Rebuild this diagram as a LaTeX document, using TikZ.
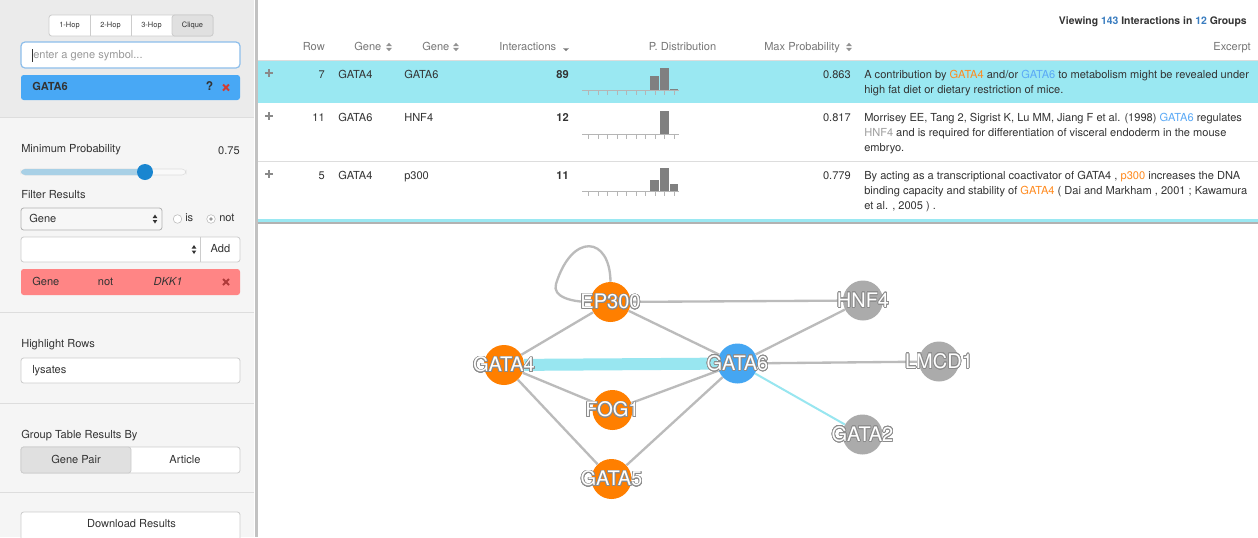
\documentclass[tikz,border=0pt]{standalone}
\usepackage{fontspec}
\setmainfont{TeX Gyre Heros}
\usepackage{xcolor}
\usepackage{contour}
\usetikzlibrary{positioning}
\definecolor{panelbg}{HTML}{F5F5F5}
\definecolor{topbg}{HTML}{EBEBEB}
\definecolor{rulegray}{HTML}{DDDDDD}
\definecolor{edgedark}{HTML}{C2C2C2}
\definecolor{btnline}{HTML}{CCCCCC}
\definecolor{btnpress}{HTML}{E0E0E0}
\definecolor{focusblue}{HTML}{8DBEEB}
\definecolor{placeholder}{HTML}{999999}
\definecolor{chipblue}{HTML}{48A8F5}
\definecolor{chipred}{HTML}{FF8585}
\definecolor{xred}{HTML}{D23C32}
\definecolor{xdark}{HTML}{B03A3A}
\definecolor{slidertrack}{HTML}{A8D0E6}
\definecolor{sliderknob}{HTML}{1A86D0}
\definecolor{rowcyan}{HTML}{9AE8F2}
\definecolor{headgray}{HTML}{777777}
\definecolor{textdark}{HTML}{333333}
\definecolor{countblue}{HTML}{3A7DC0}
\definecolor{geneorange}{HTML}{FF8A1E}
\definecolor{geneblue}{HTML}{5AA9F6}
\definecolor{genegray}{HTML}{9E9E9E}
\definecolor{histgray}{HTML}{808080}
\definecolor{tickgray}{HTML}{B5B5B5}
\definecolor{plusgray}{HTML}{8A8A8A}
\definecolor{nodeorange}{HTML}{FF7F00}
\definecolor{nodeblue}{HTML}{45A6F2}
\definecolor{nodegray}{HTML}{ABABAB}
\definecolor{edgegray}{HTML}{BBBBBB}
\definecolor{edgecyan}{HTML}{98E6F0}
\definecolor{labelgray}{HTML}{8C8C8C}
\contourlength{0.55pt}
\contournumber{24}
\tikzset{
  uitext/.style={inner sep=0pt, text=textdark, font=\fontsize{8.3}{10}\selectfont, text height=6.2pt, text depth=1.6pt},
  headtext/.style={uitext, text=headgray},
  tinytext/.style={uitext, font=\fontsize{5.6}{7}\selectfont, text height=4.2pt, text depth=1.1pt},
  field/.style={draw=btnline, fill=white, rounded corners=2pt, line width=0.6pt},
  crossmark/.style={line width=1.5pt},
  gene/.style={circle, minimum size=30pt, inner sep=0pt},
  genelabel/.style={inner sep=0pt, text=white, font=\fontsize{15}{15}\selectfont},
  link/.style={draw=edgegray, line width=1.75pt},
  hotlink/.style={draw=edgecyan, line width=9pt},
  coollink/.style={draw=edgecyan, line width=1.5pt},
}
\begin{document}
\begin{tikzpicture}[x=0.75pt,y=0.75pt,yscale=-1,xscale=1]
\useasboundingbox (0,0) rectangle (1258,537);
\fill[white] (0,0) rectangle (1258,537);

% Side panel
\fill[panelbg] (0,0) rectangle (254,537);
\fill[topbg] (0,0) rectangle (254,117);
\draw[rulegray] (0,117.5) -- (254,117.5);
\draw[rulegray] (0,312.5) -- (254,312.5);
\draw[rulegray] (0,403.5) -- (254,403.5);
\draw[rulegray] (0,492.5) -- (254,492.5);
\fill[edgedark] (254.5,0) rectangle (257.5,537);

% Hop buttons
\draw[field] (49,15) rectangle (213,36);
\draw[field, fill=btnpress] (172,15) rectangle (213,36);
\draw[btnline, line width=0.6pt] (90,15) -- (90,36);
\draw[btnline, line width=0.6pt] (131,15) -- (131,36);
\node[tinytext] (hopone) at (69.5,25.5) {1-Hop};
\node[tinytext] (hoptwo) at (110.5,25.5) {2-Hop};
\node[tinytext] (hopthree) at (151.5,25.5) {3-Hop};
\node[tinytext] (clique) at (192.5,25.5) {Clique};

% Gene search
\draw[draw=focusblue, fill=white, line width=0.9pt, rounded corners=3pt] (21,42) rectangle (240,68);
\draw[textdark, line width=0.5pt] (32,49) -- (32,62);
\node[uitext, text=placeholder, anchor=west] (genein) at (33,55.5) {enter a gene symbol...};
\fill[chipblue, rounded corners=2pt] (21,75) rectangle (240,100);
\node[uitext, anchor=west] (chipgene) at (32,87.5) {\textbf{GATA6}};
\node[uitext, font=\fontsize{9}{10}\selectfont] (chiphelp) at (209.5,87.5) {\textbf{?}};
\draw[crossmark, xred] (223,84.5) -- (229,90.5) (223,90.5) -- (229,84.5);

% Minimum probability
\node[uitext, anchor=west] (minprob) at (21,149.5) {Minimum Probability};
\node[uitext, anchor=east] (minval) at (240,151) {0.75};
\draw[draw=rulegray, fill=panelbg!60!white, rounded corners=3pt] (21,169) rectangle (186,175);
\fill[slidertrack, rounded corners=3pt] (21,169) rectangle (145,175);
\fill[sliderknob] (145,172) circle (8);

% Filter results
\node[uitext, anchor=west] (filterhead) at (21,195) {Filter Results};
\draw[field, draw=gray!60, fill=gray!6] (21,208) rectangle (162,230);
\node[uitext, anchor=west] (filterkey) at (29,219) {Gene};
\draw[gray!55, fill=white] (177.5,219) circle (4.3);
\node[uitext, anchor=west] (isopt) at (185,218.5) {is};
\draw[gray!55, fill=white] (211,219) circle (4.3);
\fill[gray!80] (211,219) circle (1.8);
\node[uitext, anchor=west] (notopt) at (219,218.5) {not};
\draw[field] (21,237) rectangle (240,262);
\draw[btnline, line width=0.6pt] (200,237) -- (200,262);
\node[uitext] (addbtn) at (220.5,249.5) {Add};
\foreach \ax/\ay in {155/219, 194/249.5} {
  \fill[textdark] (\ax-2.3,\ay-1) -- (\ax+2.3,\ay-1) -- (\ax,\ay-4.5) -- cycle;
  \fill[textdark] (\ax-2.3,\ay+1) -- (\ax+2.3,\ay+1) -- (\ax,\ay+4.5) -- cycle;
}
\fill[chipred, rounded corners=2pt] (21,269) rectangle (240,295);
\node[uitext, anchor=west] (rulekey) at (32,282) {Gene};
\node[uitext] (ruleop) at (105.5,282) {not};
\node[uitext] (ruleval) at (168,282) {\itshape DKK1};
\draw[crossmark, xdark] (223,279) -- (229,285) (223,285) -- (229,279);

% Highlight rows
\node[uitext, anchor=west] (highhead) at (21,344) {Highlight Rows};
\draw[field] (21,358) rectangle (240,383);
\node[uitext, anchor=west] (highval) at (32,370.5) {lysates};

% Group by
\node[uitext, anchor=west] (grouphead) at (21,435) {Group Table Results By};
\draw[field] (21,447) rectangle (240,473);
\draw[field, fill=btnpress] (21,447) rectangle (131,473);
\node[uitext] (genepair) at (76,460) {Gene Pair};
\node[uitext] (article) at (185,460) {Article};

% Download
\draw[field] (21,512) rectangle (240,545);
\node[uitext] (download) at (131.5,524.5) {Download Results};

% Table header
\node[uitext, font=\fontsize{7.8}{9}\selectfont\bfseries, anchor=east] (viewing) at (1247,21)
  {Viewing \textcolor{countblue}{143} Interactions in \textcolor{countblue}{12} Groups};
\node[headtext, anchor=east] (hrow) at (325,47) {Row};
\node[headtext, anchor=west] (hgeneA) at (354,47) {Gene};
\node[headtext, anchor=west] (hgeneB) at (422,47) {Gene};
\node[headtext, anchor=west] (hinter) at (499,47) {Interactions};
\node[headtext] (hdist) at (682.5,47) {P. Distribution};
\node[headtext, anchor=west] (hmax) at (764,47) {Max Probability};
\node[headtext, anchor=east] (hexcerpt) at (1251,47) {Excerpt};
\foreach \sx in {389,456,849} {
  \fill[headgray!80] (\sx-3,46.2) -- (\sx+3,46.2) -- (\sx,42.8) -- cycle;
  \fill[headgray!80] (\sx-3,47.8) -- (\sx+3,47.8) -- (\sx,51.2) -- cycle;
}
\fill[headgray] (563,48.3) -- (569,48.3) -- (566,51) -- cycle;
\draw[rulegray] (258,60.5) -- (1258,60.5);

% Row 7
\fill[rowcyan] (258,61) rectangle (1258,103);
\draw[crossmark, plusgray] (265,73) -- (273,73) (269,69) -- (269,77);
\node[uitext, anchor=east] (rowA) at (325,75.5) {7};
\node[uitext, anchor=west] (geneAa) at (338,75.5) {GATA4};
\node[uitext, anchor=west] (geneAb) at (404,75.5) {GATA6};
\node[uitext, anchor=east] (countA) at (569,75.5) {\textbf{89}};
\node[uitext, anchor=east] (probA) at (851,75.5) {0.863};
\node[uitext, anchor=west] (textAa) at (864,75.5) {A contribution by \textcolor{geneorange}{GATA4} and/or \textcolor{geneblue}{GATA6} to metabolism might be revealed under};
\node[uitext, anchor=west] (textAb) at (864,90.5) {high fat diet or dietary restriction of mice.};
\draw[tickgray] (582,90.5) -- (679,90.5);
\foreach \tx in {0,...,9} \draw[tickgray] ({588.3+9.5*\tx},90.5) -- ++(0,4.5);
\fill[histgray] (650,76) rectangle (659,90);
\fill[histgray] (660,68) rectangle (668.5,90);
\fill[histgray] (669.5,88.5) rectangle (677.5,90);

% Row 11
\draw[crossmark, plusgray] (265,116) -- (273,116) (269,112) -- (269,120);
\node[uitext, anchor=east] (rowB) at (325,118) {11};
\node[uitext, anchor=west] (geneBa) at (338,118) {GATA6};
\node[uitext, anchor=west] (geneBb) at (404,118) {HNF4};
\node[uitext, anchor=east] (countB) at (569,118) {\textbf{12}};
\node[uitext, anchor=east] (probB) at (851,118) {0.817};
\node[uitext, anchor=west] (textBa) at (864,118) {Morrisey EE, Tang 2, Sigrist K, Lu MM, Jiang F et al. (1998) \textcolor{geneblue}{GATA6} regulates};
\node[uitext, anchor=west] (textBb) at (864,133) {\textcolor{genegray}{HNF4} and is required for differentiation of visceral endoderm in the mouse};
\node[uitext, anchor=west] (textBc) at (864,148) {embryo.};
\draw[tickgray] (582,134) -- (679,134);
\foreach \tx in {0,...,9} \draw[tickgray] ({588.3+9.5*\tx},134) -- ++(0,4.5);
\fill[histgray] (660,111) rectangle (668.5,134);
\draw[rulegray] (258,161.5) -- (1258,161.5);

% Row 5
\draw[crossmark, plusgray] (265,174) -- (273,174) (269,170) -- (269,178);
\node[uitext, anchor=east] (rowC) at (325,176.5) {5};
\node[uitext, anchor=west] (geneCa) at (338,176.5) {GATA4};
\node[uitext, anchor=west] (geneCb) at (404,176.5) {p300};
\node[uitext, anchor=east] (countC) at (569,176.5) {\textbf{11}};
\node[uitext, anchor=east] (probC) at (851,176.5) {0.779};
\node[uitext, anchor=west] (textCa) at (864,176.5) {By acting as a transcriptional coactivator of GATA4 , \textcolor{geneorange}{p300} increases the DNA};
\node[uitext, anchor=west] (textCb) at (864,191.5) {binding capacity and stability of \textcolor{geneorange}{GATA4} ( Dai and Markham , 2001 ; Kawamura};
\node[uitext, anchor=west] (textCc) at (864,206.5) {et al. , 2005 ) .};
\draw[tickgray] (582,191) -- (679,191);
\foreach \tx in {0,...,9} \draw[tickgray] ({588.3+9.5*\tx},191) -- ++(0,4.5);
\fill[histgray] (650,180) rectangle (659,191);
\fill[histgray] (660,168) rectangle (668.5,191);
\fill[histgray] (669.5,184) rectangle (677.5,191);
\fill[rowcyan] (258,219) rectangle (1258,221.5);
\fill[gray!60] (258,221.5) rectangle (1258,223.5);

% Gene network
\node[gene, fill=nodeorange] (ep300) at (610.5,302) {};
\node[gene, fill=nodeorange] (gata4) at (504,365) {};
\node[gene, fill=nodeblue] (gata6) at (737.5,363.5) {};
\node[gene, fill=nodeorange] (fog1) at (612.5,410) {};
\node[gene, fill=nodeorange] (gata5) at (611.5,479) {};
\node[gene, fill=nodegray] (hnf4) at (863,300.5) {};
\node[gene, fill=nodegray] (lmcd1) at (939,361.5) {};
\node[gene, fill=nodegray] (gata2) at (862.5,434.5) {};

\draw[hotlink] (gata4) -- (gata6);
\draw[link] (gata4) -- (ep300);
\draw[link] (ep300) -- (gata6);
\draw[link] (ep300) -- (hnf4);
\draw[link] (ep300.north) .. controls (610,236) and (572,232) .. (556,284) .. controls (552,297) and (572,302) .. (ep300.west);
\draw[link] (gata4) -- (fog1);
\draw[link] (fog1) -- (gata6);
\draw[link] (gata4) -- (gata5);
\draw[link] (gata5) -- (gata6);
\draw[link] (gata6) -- (hnf4);
\draw[link] (gata6) -- (lmcd1);
\draw[coollink] (gata6) -- (gata2);

\node[genelabel] (ep300text) at (ep300) {\contour{labelgray}{EP300}};
\node[genelabel] (gata4text) at (gata4) {\contour{labelgray}{GATA4}};
\node[genelabel] (gata6text) at (gata6) {\contour{labelgray}{GATA6}};
\node[genelabel] (fog1text) at (fog1) {\contour{labelgray}{FOG1}};
\node[genelabel] (gata5text) at (gata5) {\contour{labelgray}{GATA5}};
\node[genelabel] (hnf4text) at (hnf4) {\contour{labelgray}{HNF4}};
\node[genelabel] (lmcd1text) at (lmcd1) {\contour{labelgray}{LMCD1}};
\node[genelabel] (gata2text) at (gata2) {\contour{labelgray}{GATA2}};

\end{tikzpicture}
\end{document}
